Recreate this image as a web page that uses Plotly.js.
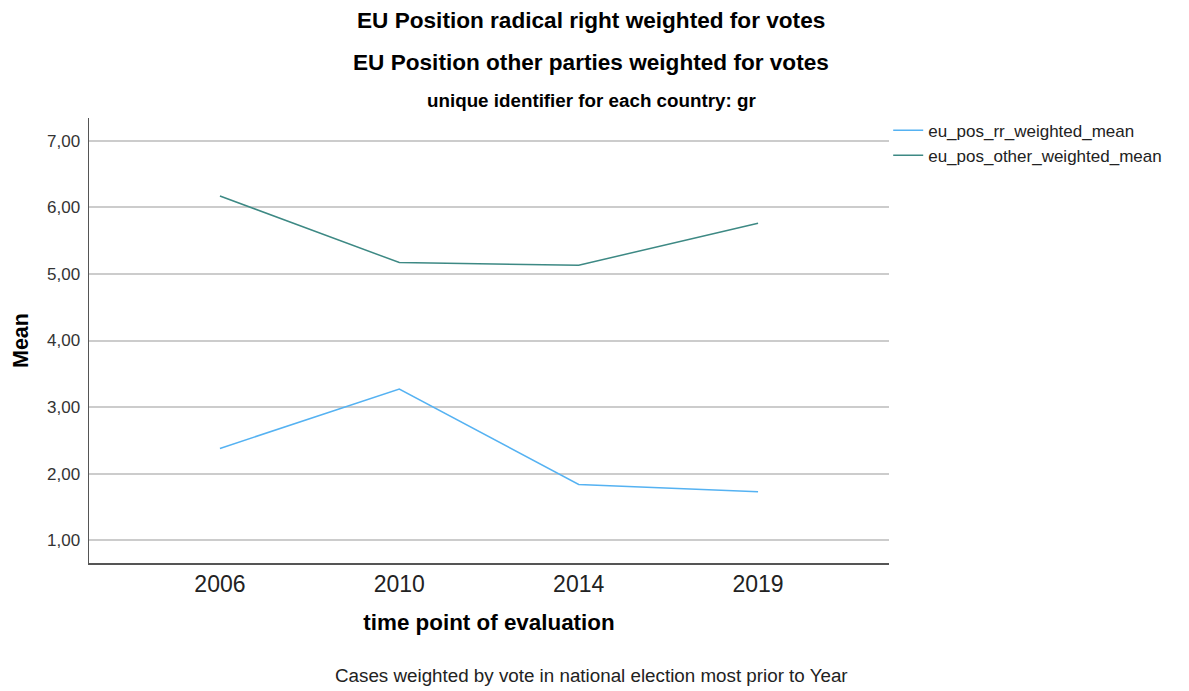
<!DOCTYPE html>
<html>
<head>
<meta charset="utf-8">
<script src="https://cdn.plot.ly/plotly-3.0.1.min.js"></script>
<style>html,body{margin:0;padding:0;background:#fff;}#chart{width:1189px;height:691px;}</style>
</head>
<body>
<div id="chart"></div>
<script>
const years = ["2006", "2010", "2014", "2019"];
const rrMean = [2.38, 3.27, 1.84, 1.73];
const otherMean = [6.17, 5.17, 5.13, 5.76];
const seriesNames = ["eu_pos_rr_weighted_mean", "eu_pos_other_weighted_mean"];
const titleLines = ["EU Position radical right weighted for votes", "EU Position other parties weighted for votes"];
const subtitle = "unique identifier for each country: gr";
const footer = "Cases weighted by vote in national election most prior to Year";

const xIdx = years.map((_, i) => i);
const traces = [
  {x: xIdx, y: rrMean, name: seriesNames[0], type: "scatter", mode: "lines",
   line: {color: "#55b2f2", width: 1.5}},
  {x: xIdx, y: otherMean, name: seriesNames[1], type: "scatter", mode: "lines",
   line: {color: "#3d8984", width: 1.5}}
];

const ff = "Liberation Sans, Arial, sans-serif";

const layout = {
  width: 1189, height: 691,
  paper_bgcolor: "#fff", plot_bgcolor: "#fff",
  margin: {l: 89, r: 300, t: 118, b: 128},
  separators: ",.",
  showlegend: true,
  legend: {x: 0.999, xanchor: "left", y: 1.012, yanchor: "top",
    font: {family: ff, size: 17, color: "#222"}, tracegroupgap: 0,
    bgcolor: "rgba(0,0,0,0)"},
  xaxis: {
    range: [-0.73, 3.73], tickmode: "array", tickvals: xIdx, ticktext: years,
    showgrid: false, zeroline: false, showline: true, linecolor: "#555", linewidth: 1.5,
    ticks: "", tickfont: {family: ff, size: 23, color: "#222"},
    title: {text: "time point of evaluation", font: {family: ff, size: 22.4, color: "#000", weight: "bold"}, standoff: 18}
  },
  yaxis: {
    range: [0.66, 7.34], tickvals: [1,2,3,4,5,6,7], tickformat: ".2f",
    showgrid: true, gridcolor: "#cccccc", gridwidth: 2, zeroline: false,
    showline: true, linecolor: "#555", linewidth: 1.5, ticks: "",
    tickfont: {family: ff, size: 17, color: "#333"}, ticklabelstandoff: 4,
    title: {text: "Mean", font: {family: ff, size: 21.5, color: "#000", weight: "bold"}, standoff: 12}
  },
  annotations: [
    {text: "<b>" + titleLines[0] + "</b>", xref: "paper", yref: "paper", x: 0.6275, y: 1.0 + (118-20)/445, showarrow: false,
     font: {family: ff, size: 22.6, color: "#000"}, xanchor: "center", yanchor: "middle"},
    {text: "<b>" + titleLines[1] + "</b>", xref: "paper", yref: "paper", x: 0.6275, y: 1.0 + (118-62)/445, showarrow: false,
     font: {family: ff, size: 22.6, color: "#000"}, xanchor: "center", yanchor: "middle"},
    {text: "<b>" + subtitle + "</b>", xref: "paper", yref: "paper", x: 0.6275, y: 1.0 + (118-101)/445, showarrow: false,
     font: {family: ff, size: 18.8, color: "#000"}, xanchor: "center", yanchor: "middle"},
    {text: footer, xref: "paper", yref: "paper", x: 0.6275, y: -(675-563)/445, showarrow: false,
     font: {family: ff, size: 18.8, color: "#222"}, xanchor: "center", yanchor: "middle"}
  ]
};

Plotly.newPlot("chart", traces, layout, {displayModeBar: false, staticPlot: true});
</script>
</body>
</html>
